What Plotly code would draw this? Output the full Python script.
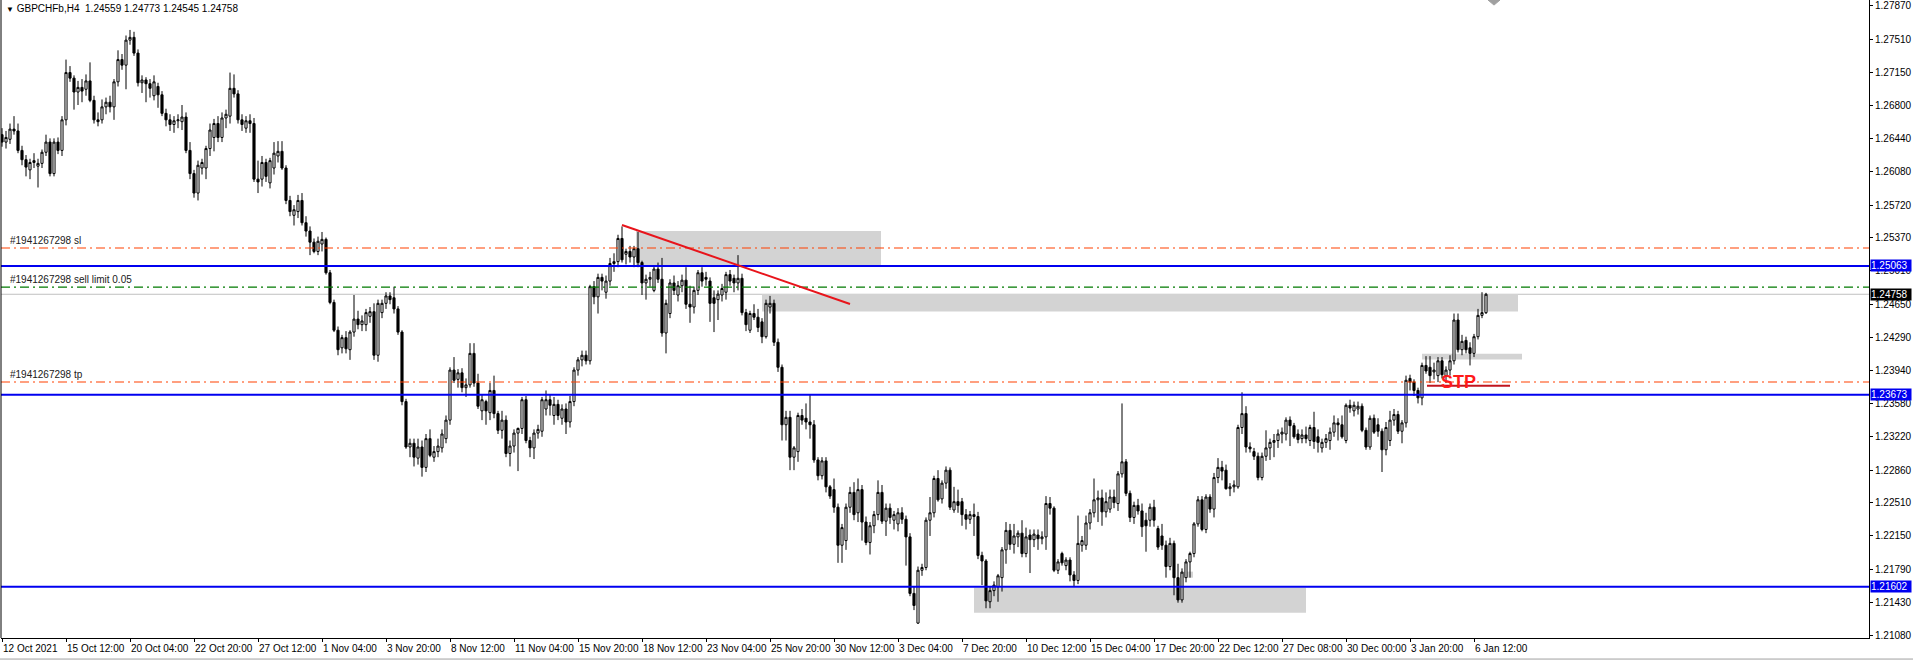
import plotly.graph_objects as go

# ---------------- data (GBPCHFb, H4) ----------------
opens = [
    1.2648,1.2640,1.2643,1.2654,1.2652,1.2631,1.2621,1.2610,1.2618,1.2614,
    1.2617,1.2629,1.2640,1.2606,1.2640,1.2631,1.2664,1.2715,1.2709,1.2694,
    1.2699,1.2697,1.2706,1.2685,1.2664,1.2664,1.2678,1.2683,1.2678,1.2705,
    1.2729,1.2723,1.2750,1.2753,1.2736,1.2704,1.2707,1.2703,1.2690,1.2700,
    1.2691,1.2671,1.2664,1.2659,1.2663,1.2662,1.2667,1.2631,1.2606,1.2585,
    1.2612,1.2612,1.2633,1.2645,1.2660,1.2645,1.2666,1.2668,1.2698,1.2692,
    1.2664,1.2655,1.2663,1.2660,1.2600,1.2600,1.2618,1.2596,1.2612,1.2625,
    1.2630,1.2612,1.2577,1.2561,1.2565,1.2577,1.2553,1.2544,1.2532,1.2522,
    1.2530,1.2535,1.2499,1.2467,1.2437,1.2418,1.2429,1.2416,1.2435,1.2449,
    1.2443,1.2443,1.2452,1.2457,1.2410,1.2456,1.2466,1.2474,1.2472,1.2460,
    1.2435,1.2360,1.2311,1.2315,1.2299,1.2311,1.2289,1.2320,1.2300,1.2306,
    1.2310,1.2320,1.2340,1.2394,1.2384,1.2391,1.2375,1.2378,1.2412,1.2380,
    1.2350,1.2360,1.2348,1.2372,1.2347,1.2329,1.2340,1.2304,1.2312,1.2326,
    1.2331,1.2362,1.2318,1.2310,1.2326,1.2328,1.2352,1.2362,1.2345,1.2357,
    1.2342,1.2352,1.2338,1.2360,1.2394,1.2405,1.2410,1.2404,1.2484,1.2473,
    1.2494,1.2478,1.2490,1.2509,1.2511,1.2536,1.2519,1.2522,1.2516,1.2525,
    1.2510,1.2488,1.2492,1.2480,1.2503,1.2492,1.2434,1.2455,1.2488,1.2475,
    1.2485,1.2491,1.2465,1.2462,1.2480,1.2499,1.2494,1.2490,1.2472,1.2470,
    1.2475,1.2478,1.2497,1.2493,1.2488,1.2493,1.2456,1.2437,1.2455,1.2451,
    1.2446,1.2430,1.2462,1.2466,1.2424,1.2397,1.2335,1.2343,1.2300,1.2306,
    1.2345,1.2342,1.2338,1.2335,1.2297,1.2280,1.2296,1.2268,1.2265,1.2246,
    1.2205,1.2210,1.2246,1.2262,1.2240,1.2265,1.2230,1.2208,1.2226,1.2238,
    1.2262,1.2231,1.2245,1.2232,1.2228,1.2240,1.2233,1.2214,1.2153,1.2121,
    1.2178,1.2181,1.2232,1.2240,1.2277,1.2255,1.2272,1.2286,1.2243,1.2252,
    1.2252,1.2238,1.2233,1.2238,1.2236,1.2194,1.2188,1.2144,1.2156,1.2160,
    1.2170,1.2200,1.2221,1.2206,1.2214,1.2218,1.2196,1.2216,1.2211,1.2216,
    1.2212,1.2214,1.2250,1.2245,1.2178,1.2196,1.2183,1.2189,1.2173,1.2167,
    1.2205,1.2205,1.2229,1.2240,1.2254,1.2256,1.2241,1.2244,1.2257,1.2250,
    1.2282,1.2295,1.2261,1.2235,1.2248,1.2242,1.2232,1.2232,1.2246,1.2223,
    1.2215,1.2205,1.2182,1.2207,1.2170,1.2146,1.2170,1.2187,1.2196,1.2228,
    1.2254,1.2222,1.2257,1.2244,1.2278,1.2289,1.2286,1.2266,1.2268,1.2268,
    1.2332,1.2347,1.2311,1.2306,1.2301,1.2278,1.2301,1.2310,1.2316,1.2318,
    1.2325,1.2325,1.2340,1.2334,1.2325,1.2320,1.2324,1.2318,1.2332,1.2322,
    1.2310,1.2316,1.2318,1.2327,1.2337,1.2335,1.2318,1.2356,1.2350,1.2352,
    1.2355,1.2329,1.2311,1.2342,1.2335,1.2328,1.2308,1.2318,1.2340,1.2346,
    1.2328,1.2337,1.2385,1.2381,1.2372,1.2364,1.2399,1.2397,1.2392,1.2388,
    1.2404,1.2388,1.2394,1.2404,1.2448,1.2416,1.2426,1.2418,1.2412,1.2430,
    1.2453,1.24559,
]
highs = [
    1.2655,1.2652,1.2660,1.2668,1.2660,1.2636,1.2626,1.2622,1.2628,1.2622,
    1.2632,1.2648,1.2644,1.2644,1.2645,1.2668,1.2729,1.2722,1.2712,1.2706,
    1.2708,1.2713,1.2726,1.2690,1.2672,1.2686,1.2688,1.2690,1.2708,1.2739,
    1.2735,1.2755,1.2761,1.2759,1.2740,1.2712,1.2710,1.2708,1.2712,1.2704,
    1.2695,1.2676,1.2670,1.2668,1.2670,1.2680,1.2672,1.2640,1.2610,1.2620,
    1.2622,1.2636,1.2660,1.2665,1.2668,1.2672,1.2675,1.2715,1.2713,1.2696,
    1.2670,1.2668,1.2670,1.2666,1.2620,1.2625,1.2622,1.2623,1.2640,1.2641,
    1.2641,1.2615,1.2582,1.2572,1.2583,1.2585,1.2560,1.2549,1.2536,1.2538,
    1.2543,1.2537,1.2502,1.2470,1.2441,1.2432,1.2436,1.2437,1.2475,1.2458,
    1.2453,1.2460,1.2462,1.2466,1.2470,1.2470,1.2478,1.2478,1.2484,1.2463,
    1.2437,1.2363,1.2320,1.2320,1.2320,1.2318,1.2325,1.2330,1.2312,1.2320,
    1.2330,1.2345,1.2397,1.2408,1.2395,1.2396,1.2385,1.2423,1.2423,1.2390,
    1.2368,1.2362,1.2380,1.2388,1.2350,1.2350,1.2345,1.2318,1.2330,1.2332,
    1.2365,1.2366,1.2322,1.2330,1.2335,1.2365,1.2372,1.2368,1.2365,1.2362,
    1.2357,1.2358,1.2366,1.2397,1.2408,1.2415,1.2415,1.2486,1.2490,1.2498,
    1.2498,1.2496,1.2515,1.2520,1.2540,1.2549,1.2525,1.2528,1.2528,1.2543,
    1.2512,1.2497,1.2500,1.2506,1.2510,1.2515,1.2470,1.2492,1.2496,1.2490,
    1.2497,1.2505,1.2485,1.2484,1.2502,1.2505,1.2500,1.2494,1.2480,1.2480,
    1.2487,1.2500,1.2502,1.2497,1.2518,1.2498,1.2460,1.2458,1.2465,1.2460,
    1.2450,1.2470,1.2474,1.2470,1.2428,1.2400,1.2350,1.2350,1.2312,1.2348,
    1.2352,1.2358,1.2367,1.2340,1.2300,1.2300,1.2300,1.2270,1.2277,1.2250,
    1.2228,1.2250,1.2268,1.2273,1.2277,1.2270,1.2236,1.2230,1.2242,1.2275,
    1.2270,1.2250,1.2250,1.2242,1.2245,1.2246,1.2237,1.2218,1.2160,1.2182,
    1.2185,1.2235,1.2257,1.2280,1.2286,1.2275,1.2290,1.2289,1.2268,1.2265,
    1.2256,1.2244,1.2242,1.2250,1.2241,1.2198,1.2190,1.2160,1.2166,1.2174,
    1.2203,1.2230,1.2228,1.2228,1.2221,1.2232,1.2224,1.2222,1.2222,1.2222,
    1.2220,1.2258,1.2257,1.2247,1.2190,1.2198,1.2192,1.2192,1.2177,1.2237,
    1.2215,1.2237,1.2244,1.2277,1.2264,1.2265,1.2262,1.2265,1.2265,1.2285,
    1.2358,1.2298,1.2264,1.2252,1.2255,1.2250,1.2240,1.2250,1.2254,1.2226,
    1.2228,1.2210,1.2213,1.2210,1.2185,1.2180,1.2190,1.2198,1.2230,1.2258,
    1.2258,1.2260,1.2260,1.2283,1.2299,1.2296,1.2292,1.2272,1.2275,1.2335,
    1.2370,1.2355,1.2316,1.2310,1.2305,1.2305,1.2329,1.2320,1.2325,1.2330,
    1.2332,1.2343,1.2344,1.2337,1.2330,1.2330,1.2333,1.2335,1.2349,1.2330,
    1.2320,1.2325,1.2332,1.2345,1.2342,1.2345,1.2358,1.2362,1.2360,1.2360,
    1.2358,1.2332,1.2345,1.2346,1.2342,1.2331,1.2338,1.2350,1.2352,1.2350,
    1.2340,1.2388,1.2389,1.2384,1.2375,1.2402,1.2409,1.2409,1.2402,1.2408,
    1.2408,1.2398,1.2410,1.2455,1.2455,1.2432,1.2430,1.2424,1.2433,1.2460,
    1.2478,1.24773,
]
lows = [
    1.2635,1.2633,1.2638,1.2648,1.2628,1.2615,1.2603,1.2600,1.2612,1.2591,
    1.2612,1.2625,1.2603,1.2603,1.2627,1.2625,1.2658,1.2705,1.2675,1.2680,
    1.2683,1.2690,1.2683,1.2660,1.2657,1.2660,1.2670,1.2672,1.2664,1.2700,
    1.2718,1.2697,1.2745,1.2733,1.2700,1.2693,1.2683,1.2688,1.2685,1.2677,
    1.2668,1.2657,1.2652,1.2650,1.2655,1.2653,1.2628,1.2600,1.2580,1.2577,
    1.2605,1.2600,1.2625,1.2630,1.2640,1.2640,1.2655,1.2660,1.2688,1.2660,
    1.2652,1.2650,1.2650,1.2597,1.2585,1.2592,1.2597,1.2590,1.2605,1.2618,
    1.2610,1.2573,1.2560,1.2550,1.2558,1.2550,1.2538,1.2518,1.2520,1.2518,
    1.2522,1.2497,1.2465,1.2435,1.2410,1.2412,1.2412,1.2405,1.2430,1.2438,
    1.2436,1.2436,1.2445,1.2405,1.2403,1.2450,1.2460,1.2465,1.2455,1.2432,
    1.2356,1.2309,1.2300,1.2290,1.2292,1.2279,1.2284,1.2300,1.2295,1.2300,
    1.2305,1.2315,1.2335,1.2380,1.2375,1.2370,1.2365,1.2375,1.2376,1.2352,
    1.2340,1.2335,1.2340,1.2342,1.2325,1.2320,1.2300,1.2290,1.2305,1.2285,
    1.2325,1.2315,1.2300,1.2298,1.2320,1.2322,1.2345,1.2345,1.2335,1.2340,
    1.2335,1.2325,1.2332,1.2355,1.2388,1.2398,1.2400,1.2400,1.2465,1.2455,
    1.2480,1.2471,1.2485,1.2500,1.2505,1.2510,1.2508,1.2510,1.2505,1.2505,
    1.2475,1.2470,1.2484,1.2478,1.2488,1.2430,1.2412,1.2450,1.2475,1.2468,
    1.2478,1.2460,1.2445,1.2455,1.2475,1.2484,1.2485,1.2446,1.2435,1.2448,
    1.2468,1.2470,1.2485,1.2478,1.2480,1.2453,1.2436,1.2434,1.2448,1.2435,
    1.2423,1.2428,1.2455,1.2420,1.2392,1.2318,1.2318,1.2286,1.2286,1.2295,
    1.2335,1.2330,1.2320,1.2294,1.2275,1.2276,1.2262,1.2255,1.2240,1.2186,
    1.2186,1.2200,1.2240,1.2232,1.2230,1.2210,1.2205,1.2195,1.2218,1.2232,
    1.2228,1.2215,1.2228,1.2222,1.2220,1.2228,1.2183,1.2150,1.2135,1.2120,
    1.2172,1.2178,1.2215,1.2235,1.2252,1.2250,1.2266,1.2243,1.2240,1.2240,
    1.2226,1.2222,1.2228,1.2215,1.2190,1.2162,1.2137,1.2137,1.2150,1.2144,
    1.2155,1.2185,1.2200,1.2196,1.2203,1.2192,1.2192,1.2175,1.2203,1.2200,
    1.2206,1.2200,1.2238,1.2176,1.2174,1.2183,1.2178,1.2166,1.2160,1.2163,
    1.2198,1.2200,1.2222,1.2235,1.2230,1.2226,1.2235,1.2240,1.2245,1.2242,
    1.2278,1.2258,1.2230,1.2228,1.2238,1.2214,1.2198,1.2225,1.2225,1.2200,
    1.2200,1.2170,1.2178,1.2151,1.2143,1.2143,1.2165,1.2170,1.2192,1.2225,
    1.2220,1.2218,1.2240,1.2235,1.2272,1.2275,1.2265,1.2258,1.2262,1.2266,
    1.2325,1.2305,1.2305,1.2297,1.2275,1.2275,1.2296,1.2297,1.2300,1.2310,
    1.2315,1.2318,1.2312,1.2320,1.2315,1.2315,1.2315,1.2312,1.2309,1.2305,
    1.2305,1.2310,1.2308,1.2322,1.2318,1.2320,1.2315,1.2348,1.2344,1.2346,
    1.2327,1.2308,1.2308,1.2325,1.2322,1.2284,1.2302,1.2312,1.2334,1.2325,
    1.2315,1.2332,1.2372,1.2366,1.2358,1.2356,1.2390,1.2380,1.2384,1.2381,
    1.2385,1.2380,1.2388,1.2400,1.2413,1.2410,1.2412,1.2399,1.2408,1.2427,
    1.2450,1.24545,
]
closes = [
    1.2640,1.2645,1.2654,1.2652,1.2631,1.2621,1.2613,1.2618,1.2620,1.2617,
    1.2629,1.2640,1.2606,1.2640,1.2631,1.2664,1.2715,1.2709,1.2694,1.2699,
    1.2695,1.2706,1.2685,1.2664,1.2662,1.2678,1.2683,1.2678,1.2705,1.2729,
    1.2723,1.2750,1.2753,1.2736,1.2704,1.2707,1.2703,1.2698,1.2705,1.2691,
    1.2671,1.2664,1.2659,1.2663,1.2664,1.2667,1.2631,1.2606,1.2585,1.2615,
    1.2618,1.2633,1.2653,1.2660,1.2645,1.2666,1.2670,1.2698,1.2692,1.2664,
    1.2659,1.2663,1.2660,1.2600,1.2597,1.2618,1.2603,1.2620,1.2628,1.2630,
    1.2612,1.2577,1.2565,1.2567,1.2577,1.2553,1.2544,1.2532,1.2522,1.2533,
    1.2535,1.2499,1.2467,1.2437,1.2416,1.2429,1.2417,1.2435,1.2449,1.2443,
    1.2447,1.2456,1.2457,1.2410,1.2466,1.2466,1.2474,1.2470,1.2460,1.2435,
    1.2360,1.2311,1.2315,1.2300,1.2311,1.2289,1.2320,1.2302,1.2306,1.2312,
    1.2325,1.2340,1.2394,1.2383,1.2391,1.2375,1.2378,1.2412,1.2380,1.2355,
    1.2362,1.2350,1.2372,1.2347,1.2329,1.2340,1.2304,1.2312,1.2326,1.2331,
    1.2362,1.2318,1.2310,1.2326,1.2330,1.2362,1.2362,1.2356,1.2357,1.2345,
    1.2352,1.2338,1.2360,1.2394,1.2405,1.2410,1.2404,1.2484,1.2473,1.2494,
    1.2490,1.2490,1.2509,1.2511,1.2536,1.2513,1.2522,1.2516,1.2525,1.2510,
    1.2488,1.2492,1.2494,1.2503,1.2492,1.2434,1.2466,1.2488,1.2480,1.2485,
    1.2491,1.2465,1.2462,1.2480,1.2499,1.2490,1.2492,1.2466,1.2466,1.2476,
    1.2482,1.2497,1.2490,1.2488,1.2493,1.2456,1.2443,1.2455,1.2451,1.2440,
    1.2430,1.2466,1.2466,1.2424,1.2397,1.2335,1.2343,1.2300,1.2310,1.2345,
    1.2340,1.2338,1.2335,1.2297,1.2280,1.2296,1.2268,1.2258,1.2246,1.2205,
    1.2224,1.2246,1.2262,1.2238,1.2265,1.2230,1.2208,1.2226,1.2238,1.2262,
    1.2231,1.2245,1.2235,1.2238,1.2240,1.2233,1.2214,1.2153,1.2140,1.2178,
    1.2181,1.2232,1.2240,1.2277,1.2254,1.2272,1.2286,1.2246,1.2252,1.2248,
    1.2238,1.2233,1.2238,1.2236,1.2194,1.2188,1.2145,1.2156,1.2162,1.2172,
    1.2200,1.2221,1.2206,1.2215,1.2218,1.2196,1.2214,1.2211,1.2217,1.2212,
    1.2214,1.2250,1.2245,1.2178,1.2187,1.2186,1.2189,1.2173,1.2167,1.2207,
    1.2210,1.2229,1.2240,1.2254,1.2256,1.2241,1.2252,1.2257,1.2251,1.2282,
    1.2295,1.2261,1.2235,1.2248,1.2242,1.2225,1.2226,1.2246,1.2232,1.2203,
    1.2205,1.2182,1.2207,1.2170,1.2146,1.2176,1.2187,1.2196,1.2228,1.2254,
    1.2222,1.2257,1.2244,1.2278,1.2289,1.2285,1.2266,1.2268,1.2270,1.2332,
    1.2347,1.2311,1.2309,1.2301,1.2278,1.2301,1.2310,1.2316,1.2318,1.2325,
    1.2327,1.2340,1.2334,1.2322,1.2319,1.2324,1.2320,1.2332,1.2317,1.2316,
    1.2316,1.2320,1.2327,1.2337,1.2335,1.2322,1.2356,1.2353,1.2356,1.2355,
    1.2329,1.2311,1.2342,1.2327,1.2328,1.2308,1.2332,1.2340,1.2346,1.2328,
    1.2337,1.2383,1.2381,1.2372,1.2364,1.2399,1.2393,1.2388,1.2394,1.2404,
    1.2389,1.2394,1.2404,1.2448,1.2416,1.2425,1.2416,1.2412,1.2430,1.2453,
    1.2456,1.24758,
]

time_labels = ["12 Oct 2021", "15 Oct 12:00", "20 Oct 04:00", "22 Oct 20:00", "27 Oct 12:00",
               "1 Nov 04:00", "3 Nov 20:00", "8 Nov 12:00", "11 Nov 04:00", "15 Nov 20:00",
               "18 Nov 12:00", "23 Nov 04:00", "25 Nov 20:00", "30 Nov 12:00", "3 Dec 04:00",
               "7 Dec 20:00", "10 Dec 12:00", "15 Dec 04:00", "17 Dec 20:00", "22 Dec 12:00",
               "27 Dec 08:00", "30 Dec 00:00", "3 Jan 20:00", "6 Jan 12:00"]
label_step = 16  # bars between time labels

price_ticks = [1.27870, 1.27510, 1.27150, 1.26800, 1.26440, 1.26080, 1.25720, 1.25370,
               1.25010, 1.24650, 1.24290, 1.23940, 1.23580, 1.23220, 1.22860, 1.22510,
               1.22150, 1.21790, 1.21430, 1.21080]

blue_levels = [1.25063, 1.23673, 1.21602]
order_levels = {"sl": 1.25257, "sell limit 0.05": 1.24836, "tp": 1.23811}
order_id = "#1941267298"
current_price = 1.24758

# zones: (bar_from, bar_to, price_low, price_high)
zones = [(158.5, 219.75, 1.25073, 1.25440),
         (190.0, 379.0, 1.24573, 1.24761),
         (355.0, 380.0, 1.24053, 1.24117),
         (243.0, 326.0, 1.21322, 1.21592),
         (294.5, 297.75, 1.21700, 1.21765)]
trend = [(155, 1.25505), (212, 1.24653)]
stp_text_pos = (364, 1.23811)
stp_line = (356.25, 377.0, 1.23770)

FONT = "Liberation Sans, Arial, sans-serif"
n = len(closes)
xs = list(range(n))

fig = go.Figure()
fig.add_trace(go.Candlestick(
    x=xs, open=opens, high=highs, low=lows, close=closes,
    increasing=dict(fillcolor="white", line=dict(color="black", width=1)),
    decreasing=dict(fillcolor="black", line=dict(color="black", width=1)),
    whiskerwidth=0, showlegend=False, hoverinfo="skip"))

shapes = []
for x0, x1, p0, p1 in zones:
    shapes.append(dict(type="rect", xref="x", yref="y", x0=x0, x1=x1, y0=p0, y1=p1,
                       fillcolor="#d3d3d3", line=dict(width=0), layer="below"))
# current price line
shapes.append(dict(type="line", xref="paper", yref="y", x0=0, x1=1, y0=current_price, y1=current_price,
                   line=dict(color="#c0c0c0", width=1), layer="below"))
# order lines
order_colors = {"sl": "#ff4000", "sell limit 0.05": "#007a00", "tp": "#ff4000"}
for name, lvl in order_levels.items():
    shapes.append(dict(type="line", xref="paper", yref="y", x0=0, x1=1, y0=lvl, y1=lvl,
                       line=dict(color=order_colors[name], width=1.2, dash="9px,4px,2px,4px")))
# blue support/resistance lines
for lvl in blue_levels:
    shapes.append(dict(type="line", xref="paper", yref="y", x0=0, x1=1, y0=lvl, y1=lvl,
                       line=dict(color="#0000f0", width=2)))
# trend line
shapes.append(dict(type="line", xref="x", yref="y", x0=trend[0][0], y0=trend[0][1],
                   x1=trend[1][0], y1=trend[1][1], line=dict(color="#e8141b", width=2)))
# STP underline
shapes.append(dict(type="line", xref="x", yref="y", x0=stp_line[0], x1=stp_line[1],
                   y0=stp_line[2], y1=stp_line[2], line=dict(color="#c0141e", width=2)))
# left window border and bottom frame line
shapes.append(dict(type="line", xref="paper", yref="paper", x0=0, x1=0, y0=0, y1=1,
                   line=dict(color="black", width=1)))
shapes.append(dict(type="line", xref="paper", yref="paper", x0=-0.01, x1=1.05, y0=-0.033, y1=-0.033,
                   line=dict(color="#a0a0a0", width=1)))
# chart shift marker at the top
shapes.append(dict(type="path", xref="x", yref="paper",
                   path="M 371.5,1 L 374.5,1 L 373,0.992 Z",
                   fillcolor="#a0a0a0", line=dict(color="#a0a0a0", width=1)))

annotations = []
# title
annotations.append(dict(xref="paper", yref="paper", x=0, y=1, xanchor="left", yanchor="top",
                        xshift=3, yshift=-1, showarrow=False,
                        text="<span style='font-size:8px'>▼</span> GBPCHFb,H4\u00a0\u00a01.24559 1.24773 1.24545 1.24758",
                        font=dict(family=FONT, size=10, color="black")))
# order labels
for name, lvl in order_levels.items():
    annotations.append(dict(xref="x", yref="y", x=1.5, y=lvl, xanchor="left", yanchor="bottom",
                            yshift=0, showarrow=False, text=f"{order_id} {name}",
                            font=dict(family=FONT, size=10, color="#202020")))
# time labels
for k, lab in enumerate(time_labels):
    annotations.append(dict(xref="x", yref="paper", x=k * label_step, y=0, xanchor="left",
                            yanchor="top", xshift=-1, yshift=-3, showarrow=False, text=lab,
                            font=dict(family=FONT, size=10, color="black")))
# price tags on the axis
for lvl in blue_levels:
    annotations.append(dict(xref="paper", yref="y", x=1, y=lvl, xanchor="left", yanchor="middle",
                            xshift=1, showarrow=False, text=f"{lvl:.5f}", bgcolor="#0000f0",
                            width=40, height=11, align="left", borderpad=0,
                            font=dict(family=FONT, size=10, color="white")))
annotations.append(dict(xref="paper", yref="y", x=1, y=current_price, xanchor="left", yanchor="middle",
                        xshift=1, showarrow=False, text=f"{current_price:.5f}", bgcolor="black",
                        width=40, height=11, align="left", borderpad=0,
                        font=dict(family=FONT, size=10, color="white")))
# STP
annotations.append(dict(xref="x", yref="y", x=stp_text_pos[0], y=stp_text_pos[1], showarrow=False,
                        text="<b>STP</b>", font=dict(family="Liberation Sans, Arial", size=18, color="#ff1a1a")))

fig.update_layout(
    width=1913, height=662,
    margin=dict(l=1, r=44, t=0, b=24, pad=0),
    paper_bgcolor="white", plot_bgcolor="white",
    boxgap=0.25,
    showlegend=False,
    shapes=shapes, annotations=annotations,
    xaxis=dict(range=[-0.25, 466.75], rangeslider=dict(visible=False), showgrid=False,
               zeroline=False, showline=True, linecolor="black", linewidth=1,
               tickmode="array", tickvals=[k * label_step for k in range(len(time_labels))],
               ticks="outside", ticklen=3, tickcolor="black", showticklabels=False, fixedrange=True),
    yaxis=dict(range=[1.21049, 1.27933], side="right", showgrid=False, zeroline=False,
               showline=True, linecolor="black", linewidth=1,
               tickmode="array", tickvals=price_ticks, ticktext=[f"{v:.5f}" for v in price_ticks],
               ticks="outside", ticklen=3, tickcolor="black",
               tickfont=dict(family=FONT, size=10, color="black"), fixedrange=True),
)

fig.write_html("out.html", config={"displayModeBar": False},
               post_script="document.body.style.margin='0';document.body.style.padding='0';document.body.style.overflow='hidden';")
